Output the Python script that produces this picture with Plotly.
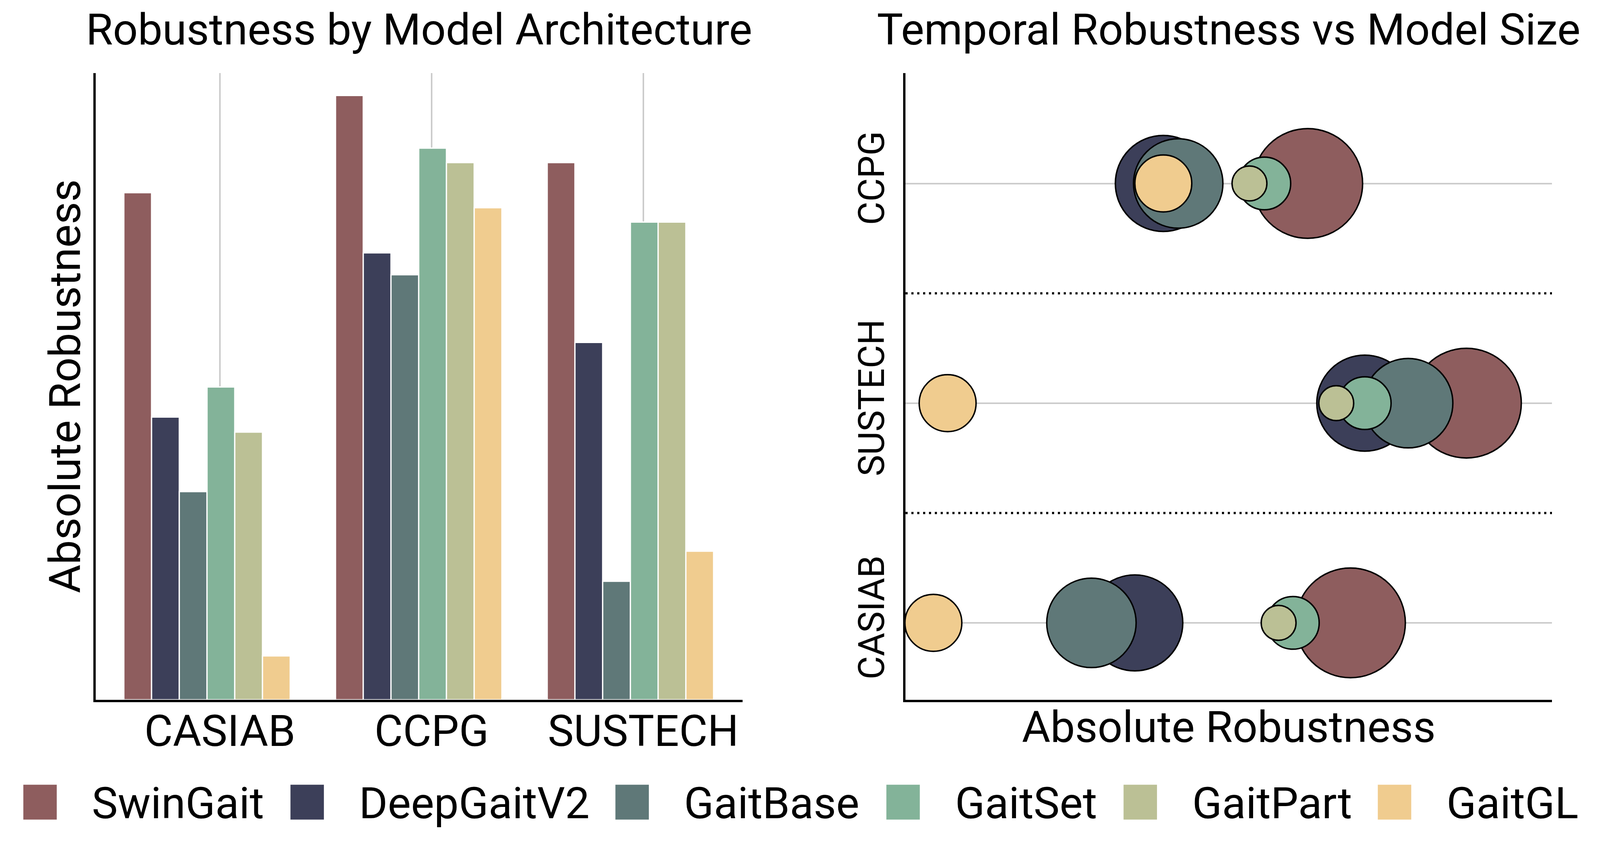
import plotly.graph_objects as go

# ---------------- data ----------------
models = ["SwinGait", "DeepGaitV2", "GaitBase", "GaitSet", "GaitPart", "GaitGL"]
colors = ["#8E5D5E", "#3C3F59", "#5F7878", "#83B399", "#BBC095", "#F0CC8F"]

datasets = ["CASIAB", "CCPG", "SUSTECH"]

# Absolute robustness per model (order of `datasets`)
swingait_abs = [80.9, 96.4, 85.7]
deepgaitv2_abs = [45.1, 71.3, 57.0]
gaitbase_abs = [33.2, 67.8, 18.9]
gaitset_abs = [49.9, 88.0, 76.2]
gaitpart_abs = [42.7, 85.7, 76.2]
gaitgl_abs = [7.0, 78.5, 23.7]

# Temporal robustness per model (order of `bubble_rows`)
bubble_rows = ["CASIAB", "SUSTECH", "CCPG"]
swingait_temp = [68.9, 86.8, 62.3]
deepgaitv2_temp = [35.6, 71.1, 40.0]
gaitbase_temp = [28.9, 77.8, 42.3]
gaitset_temp = [60.0, 71.1, 55.6]
gaitpart_temp = [57.8, 66.7, 53.3]
gaitgl_temp = [4.5, 6.7, 40.0]

# Model size (relative units, order of `models`)
model_size = [11.9, 9.1, 7.9, 2.74, 1.2, 3.2]

abs_values = [swingait_abs, deepgaitv2_abs, gaitbase_abs, gaitset_abs, gaitpart_abs, gaitgl_abs]
temp_values = [swingait_temp, deepgaitv2_temp, gaitbase_temp, gaitset_temp, gaitpart_temp, gaitgl_temp]

# ---------------- layout constants ----------------
# reference frame (design) size; the figure fills the browser viewport
W, H = 4576, 2183
SX, SY = 0.894, 0.972          # viewport css px / design px
FS = 0.905                     # font / size scale
FONT = "Roboto"
BIG = round(124 * FS)
SMALL = round(102 * FS)
GRID = "#cccccc"
LW = 5.6


def px_x(p):
    return p / W


def px_y(p):
    return (H - p) / H


left_dom = [px_x(266), px_x(2123)]
right_dom = [px_x(2591), px_x(4447)]
v_dom = [px_y(1796), px_y(180)]

fig = go.Figure()

# ---------------- bars ----------------
bar_w = 0.131
bar_start = -0.4538
for i, (m, c, vals) in enumerate(zip(models, colors, abs_values)):
    fig.add_trace(go.Bar(
        x=datasets, y=vals, name=m,
        width=bar_w, offset=bar_start + i * bar_w,
        marker=dict(color=c, line=dict(color="white", width=3.2)),
        xaxis="x", yaxis="y", showlegend=False,
    ))

# ---------------- bubbles (largest drawn first) ----------------
max_d = 302 * 0.93
sizeref = 2 * max(model_size) / max_d ** 2
order = sorted(range(len(models)), key=lambda k: -model_size[k])
for k in order:
    fig.add_trace(go.Scatter(
        x=temp_values[k], y=bubble_rows, mode="markers", name=models[k],
        marker=dict(size=[model_size[k]] * len(bubble_rows), sizemode="area",
                    sizeref=sizeref, color=colors[k],
                    line=dict(color="black", width=3.7), opacity=1),
        xaxis="x2", yaxis="y2", showlegend=False, cliponaxis=False,
    ))

# dotted separators between bubble rows
shapes = []
for i in range(len(bubble_rows) - 1):
    shapes.append(dict(type="line", xref="x2 domain", yref="y2",
                       x0=0, x1=1, y0=i + 0.5, y1=i + 0.5,
                       line=dict(color="black", width=5.8, dash="5.4px,9.6px"),
                       layer="above"))

# ---------------- manual legend ----------------
legend_sq_left = [58, 825, 1758, 2536, 3217, 3947]
annotations = []
for m, c, xl in zip(models, colors, legend_sq_left):
    shapes.append(dict(type="rect", xref="paper", yref="paper",
                       x0=px_x(xl), x1=px_x(xl + 96),
                       y0=px_y(2105), y1=px_y(2015),
                       fillcolor=c, line=dict(width=0)))
    annotations.append(dict(text=m, xref="paper", yref="paper",
                            x=px_x(xl + 196), y=px_y(2062.6),
                            xanchor="left", yanchor="middle", showarrow=False,
                            borderpad=0,
                            font=dict(family=FONT, size=BIG, color="black")))

# titles
title_mid = 0.585 * BIG / SY + 1
annotations.append(dict(text="Robustness by Model Architecture", xref="paper", yref="paper",
                        x=px_x(1194), y=px_y(title_mid), xanchor="center", yanchor="middle",
                        showarrow=False, borderpad=0,
                        font=dict(family=FONT, size=BIG, color="black")))
annotations.append(dict(text="Temporal Robustness vs Model Size", xref="paper", yref="paper",
                        x=px_x(3519), y=px_y(title_mid), xanchor="center", yanchor="middle",
                        showarrow=False, borderpad=0,
                        font=dict(family=FONT, size=BIG, color="black")))
# axis titles
annotations.append(dict(text="Absolute Robustness", xref="paper", yref="paper",
                        x=px_x(178.6), y=px_y(988), xanchor="center", yanchor="middle",
                        textangle=-90, showarrow=False, borderpad=0,
                        font=dict(family=FONT, size=BIG, color="black")))
annotations.append(dict(text="Absolute Robustness", xref="paper", yref="paper",
                        x=px_x(3519), y=px_y(1866.6), xanchor="center", yanchor="middle",
                        showarrow=False, borderpad=0,
                        font=dict(family=FONT, size=BIG, color="black")))

fig.update_layout(
    autosize=True,
    margin=dict(l=0, r=0, t=0, b=0, autoexpand=False),
    paper_bgcolor="white", plot_bgcolor="white",
    barmode="overlay",
    font=dict(family=FONT, color="black"),
    xaxis=dict(domain=left_dom, anchor="y", type="category",
               categoryorder="array", categoryarray=datasets,
               range=[-0.5864, 2.4689],
               showgrid=True, gridcolor=GRID, gridwidth=3.7,
               showline=True, linecolor="black", linewidth=LW,
               ticks="", ticklabelstandoff=-22,
               tickfont=dict(family=FONT, size=BIG, color="black"),
               zeroline=False, automargin=False),
    yaxis=dict(domain=v_dom, anchor="x", range=[0, 100],
               showgrid=False, showticklabels=False, ticks="",
               showline=True, linecolor="black", linewidth=LW,
               zeroline=False, automargin=False),
    xaxis2=dict(domain=right_dom, anchor="y2", range=[0.2, 100],
                showgrid=False, showticklabels=False, ticks="",
                showline=True, linecolor="black", linewidth=LW,
                zeroline=False, automargin=False),
    yaxis2=dict(domain=v_dom, anchor="x2", type="category",
                categoryorder="array", categoryarray=bubble_rows,
                range=[-0.35, 2.503],
                showgrid=True, gridcolor=GRID, gridwidth=3.7,
                showline=True, linecolor="black", linewidth=LW,
                ticks="", tickangle=-90, ticklabelstandoff=13,
                tickfont=dict(family=FONT, size=SMALL, color="black"),
                zeroline=False, automargin=False),
    shapes=shapes,
    annotations=annotations,
)

fig.write_html("out.html", default_width="calc(100vw - 16px)",
               default_height="calc(100vh - 16px)")
